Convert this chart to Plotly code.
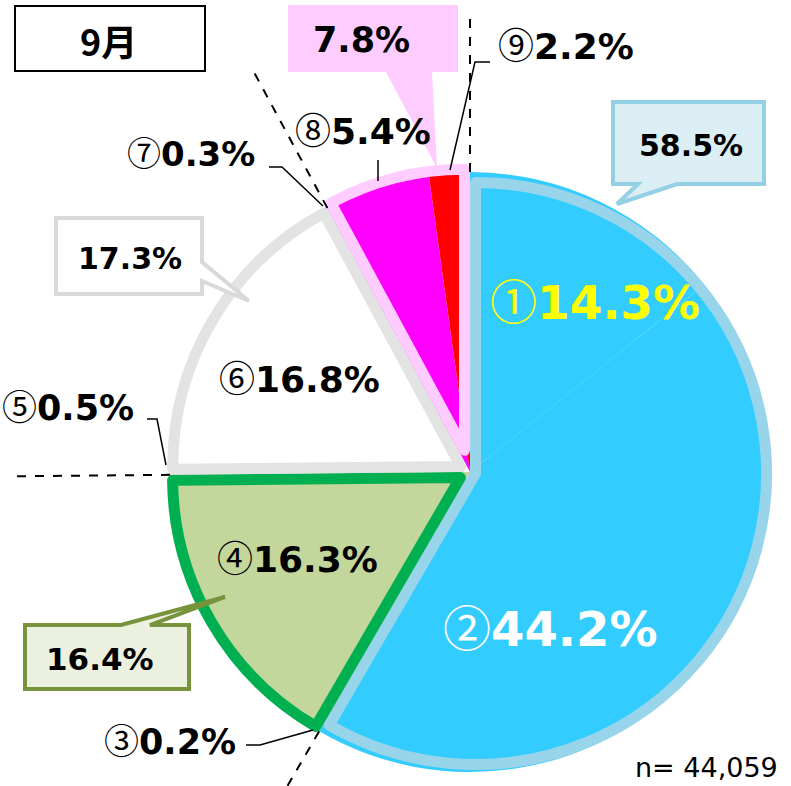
import math
import plotly.graph_objects as go

# ---------------- data ----------------
slice_labels = ["①", "②", "③", "④", "⑤", "⑥", "⑦", "⑧", "⑨"]
slice_values = [14.3, 44.2, 0.2, 16.3, 0.5, 16.8, 0.3, 5.4, 2.2]
slice_colors = ["#33CCFF", "#33CCFF", "#A9C185", "#C3D69B", "#D0D0D0",
                "#FFFFFF", "#CC00CC", "#FF00FF", "#FF0000"]
group_members = [[0, 1], [2, 3], [4, 5], [6, 7, 8]]
group_totals = ["58.5%", "16.4%", "17.3%", "7.8%"]
group_line_colors = ["#98D4EA", "#00B050", "#E3E3E3", "#FFCCFF"]
month_label = "9月"
n_label = "n= 44,059"

# ---------------- geometry helpers ----------------
W, H = 791, 786
CX, CY, R = 470, 472, 300
LINE_W = 11
FONT = "DejaVu Sans, Noto Sans CJK JP, sans-serif"
CJK = "Noto Sans CJK JP"


def px(x):
    return x / W


def py(y):
    return 1 - y / H


def dom(cx, cy, r):
    return dict(x=[px(cx - r), px(cx + r)], y=[py(cy + r), py(cy - r)])


total = sum(slice_values)

fig = go.Figure()

# fill pie (all slices)
fig.add_trace(go.Pie(
    values=slice_values, labels=slice_labels, sort=False, direction="clockwise",
    marker=dict(colors=slice_colors, line=dict(width=0)),
    textinfo="none", hoverinfo="label+percent", showlegend=False,
    domain=dom(CX, CY, R),
))

# outline pies per group (inset so strokes fall inside each group)
cum = 0.0
for gi, members in enumerate(group_members):
    gsum = sum(slice_values[i] for i in members)
    before = cum
    after = total - cum - gsum
    s = cum / total
    e = (cum + gsum) / total
    theta = (e - s) * 2 * math.pi
    phi = (s + e) / 2 * 2 * math.pi
    d = (LINE_W / 2) / math.sin(theta / 2)
    ux, uy = math.sin(phi), -math.cos(phi)
    ccx, ccy = CX + d * ux, CY + d * uy
    rr = R - LINE_W / 2 - d * 0.6
    vals, cols, lws, lcs = [], [], [], []
    if before > 0:
        vals.append(before); cols.append("rgba(0,0,0,0)"); lws.append(0); lcs.append("rgba(0,0,0,0)")
    vals.append(gsum); cols.append("rgba(0,0,0,0)"); lws.append(LINE_W); lcs.append(group_line_colors[gi])
    if after > 1e-9:
        vals.append(after); cols.append("rgba(0,0,0,0)"); lws.append(0); lcs.append("rgba(0,0,0,0)")
    fig.add_trace(go.Pie(
        values=vals, sort=False, direction="clockwise",
        marker=dict(colors=cols, line=dict(width=lws, color=lcs)),
        textinfo="none", hoverinfo="skip", showlegend=False,
        domain=dom(ccx, ccy, rr),
    ))
    cum += gsum

shapes = []

# subtle shadow band along the ①/② boundary
a12 = (slice_values[0] / total) * 2 * math.pi + math.radians(1.8)
shapes.append(dict(type="line", xref="paper", yref="paper",
                   x0=px(CX + 25 * math.sin(a12)), y0=py(CY - 25 * math.cos(a12)),
                   x1=px(CX + 285 * math.sin(a12)), y1=py(CY - 285 * math.cos(a12)),
                   line=dict(color="rgba(30,150,200,0.28)", width=13), layer="below"))

# dashed group-boundary lines
cum = 0.0
bounds = [0.0]
for members in group_members:
    cum += sum(slice_values[i] for i in members)
    bounds.append(cum)
for b in bounds[:-1]:
    a = b / total * 2 * math.pi
    r1, r2 = R, 455
    shapes.append(dict(type="line", xref="paper", yref="paper",
                       x0=px(CX + r1 * math.sin(a)), y0=py(CY - r1 * math.cos(a)),
                       x1=px(CX + r2 * math.sin(a)), y1=py(CY - r2 * math.cos(a)),
                       line=dict(color="black", width=2, dash="dash")))


def bubble(x0, y0, x1, y1, side, a, b, ax, ay, fill, line_color, lw):
    if side == "top":
        pts = [(x0, y0), (a, y0), (ax, ay), (b, y0), (x1, y0), (x1, y1), (x0, y1)]
    elif side == "bottom":
        pts = [(x0, y0), (x1, y0), (x1, y1), (b, y1), (ax, ay), (a, y1), (x0, y1)]
    else:  # right
        pts = [(x0, y0), (x1, y0), (x1, a), (ax, ay), (x1, b), (x1, y1), (x0, y1)]
    path = "M " + " L ".join(f"{px(x):.5f},{py(y):.5f}" for x, y in pts) + " Z"
    return dict(type="path", xref="paper", yref="paper", path=path,
                fillcolor=fill, line=dict(color=line_color, width=lw), layer="above")


# callout bubbles (group totals)
shapes.append(bubble(613, 102, 764, 184, "bottom", 638, 677, 617, 204, "#DAEEF3", "#93CFE5", 4))
shapes.append(bubble(56, 218, 202, 294, "right", 262, 281, 249, 301, "#FFFFFF", "#D9D9D9", 4))
shapes.append(bubble(25, 625, 189, 689, "top", 121, 150, 225, 597, "#EBF1DE", "#77933C", 4))
shapes.append(bubble(288, 5, 458, 72, "bottom", 386, 432, 437, 168, "#FFCCFF", "rgba(0,0,0,0)", 0))
# month box
shapes.append(dict(type="rect", xref="paper", yref="paper", x0=px(15), y0=py(71), x1=px(205), y1=py(6),
                   fillcolor="white", line=dict(color="black", width=2)))

# leader lines for small slices
leaders = [
    [(450, 170), (475, 62), (490, 62)],
    [(378, 160), (378, 181)],
    [(269, 167), (282, 167), (323, 206)],
    [(147, 419), (157, 419), (166, 465)],
    [(246, 745), (260, 745), (313, 730)],
]
for pts in leaders:
    path = "M " + " L ".join(f"{px(x):.5f},{py(y):.5f}" for x, y in pts)
    shapes.append(dict(type="path", xref="paper", yref="paper", path=path,
                       line=dict(color="black", width=1.5)))

annotations = []


def txt(x, y, s, size, color="black", bold=True, family=FONT):
    annotations.append(dict(
        x=px(x), y=py(y), xref="paper", yref="paper", showarrow=False,
        text=f"<b>{s}</b>" if bold else s, xanchor="center", yanchor="middle",
        font=dict(family=family, size=size, color=color)))


def slice_txt(x, y, i, size, color="black"):
    # circled number (thin, CJK font) + bold percentage
    annotations.append(dict(
        x=px(x), y=py(y), xref="paper", yref="paper", showarrow=False,
        text=f"<span style='font-family:{CJK};font-weight:normal'>{slice_labels[i]}</span>"
             f"<b>{slice_values[i]}%</b>",
        xanchor="center", yanchor="middle",
        font=dict(family=FONT, size=size, color=color)))


txt(108, 40, month_label, 36, family=CJK)
txt(361, 40, group_totals[3], 35)
txt(691, 145, group_totals[0], 30)
txt(130, 258, group_totals[2], 30)
txt(100, 659, group_totals[1], 31)

slice_txt(595, 298, 0, 47, "#FFFF00")
slice_txt(550, 625, 1, 48, "white")
slice_txt(170, 738, 2, 35)
slice_txt(297, 556, 3, 36)
slice_txt(68, 404, 4, 35)
slice_txt(299, 376, 5, 36)
slice_txt(191, 152, 6, 34)
slice_txt(363, 128, 7, 36)
slice_txt(566, 43, 8, 36)
txt(706, 767, n_label, 27, bold=False)

fig.update_layout(
    width=W, height=H, margin=dict(l=0, r=0, t=0, b=0),
    paper_bgcolor="white", plot_bgcolor="white",
    shapes=shapes, annotations=annotations, showlegend=False,
)

fig.write_html("out.html", config={"displayModeBar": False},
               post_script="document.body.style.margin='0';")
